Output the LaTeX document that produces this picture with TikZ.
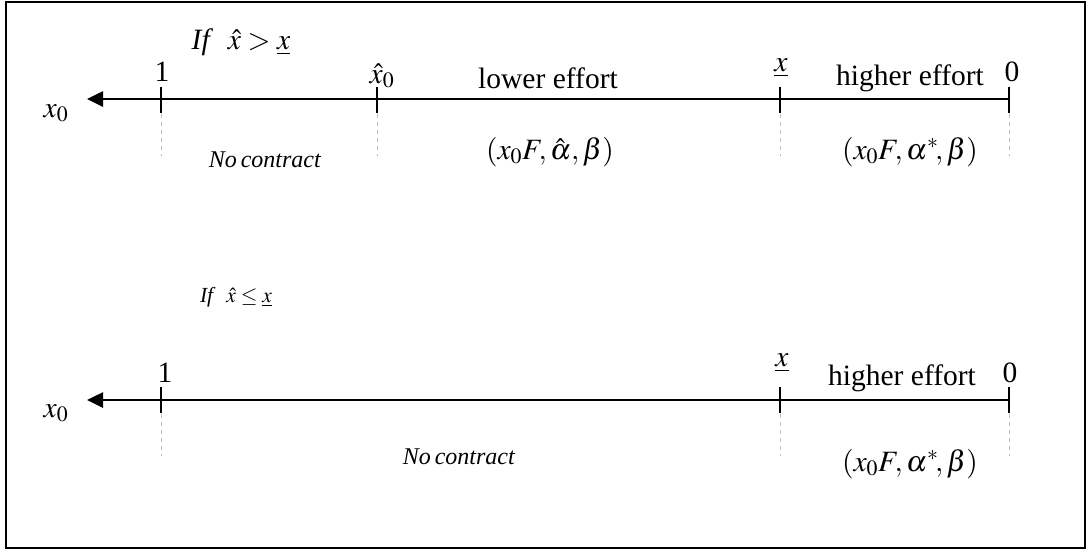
\documentclass[tikz,border=0pt]{standalone}
\usepackage{mathptmx}
\usepackage{fontspec}
\setmainfont{Liberation Serif}
\usetikzlibrary{arrows.meta}
\tikzset{
  axis/.style={line width=2.6pt,-{Triangle[length=16pt,width=15pt]}},
  tickmark/.style={line width=1.8pt},
  guide/.style={draw=black!25,line width=1pt,dash pattern=on 4pt off 4pt},
  big/.style={font=\fontsize{29.5}{34}\selectfont,inner sep=0pt},
  mid/.style={font=\fontsize{24}{28}\selectfont,inner sep=0pt},
  small/.style={font=\fontsize{21.5}{25}\selectfont,inner sep=0pt},
}
\begin{document}
\begin{tikzpicture}[x=1pt,y=-1pt]
\useasboundingbox (0,0) rectangle (1091,550);
\draw[line width=1.6pt] (6,2) rectangle (1085,548);
% ---------- top axis ----------
\coordinate (t1) at (161,99);
\coordinate (th) at (377,99);
\coordinate (tx) at (780,99);
\coordinate (t0) at (1009,99);
\coordinate (tend) at (87,99);
\draw[axis] (t0) -- (tend);
\foreach \p in {t1,th,tx,t0}{
  \draw[tickmark] ([yshift=12pt]\p) -- ([yshift=-14pt]\p);
  \draw[guide] ([yshift=-15pt]\p) -- ([yshift=-57pt]\p);
}
\node[big] (tif) at (241,42) {\textit{If}\ \ $\hat{x} > \underline{x}$};
\node[big] (tx0) at (56,113) {$x_{0}$};
\node[big] (tone) at (162,72) {1};
\node[big] (thl) at (382,76) {$\hat{x}_{0}$};
\node[big] (tlow) at (548,78) {lower effort};
\node[big] (txl) at (781,68) {$\underline{x}$};
\node[big] (thigh) at (910,78) {higher effort};
\node[big] (tzero) at (1012,72) {0};
\node[mid] (tnc) at (265,160) {\textit{No\,contract}};
\node[big] (tc1) at (550,152) {$(x_{0}F, \hat{\alpha}, \beta)$};
\node[big] (tc2) at (910,152) {$(x_{0}F, \alpha^{*}\!, \beta)$};
% ---------- bottom axis ----------
\coordinate (b1) at (161,400);
\coordinate (bx) at (780,400);
\coordinate (b0) at (1009,400);
\coordinate (bend) at (87,400);
\draw[axis] (b0) -- (bend);
\foreach \p in {b1,bx,b0}{
  \draw[tickmark] ([yshift=13pt]\p) -- ([yshift=-13pt]\p);
  \draw[guide] ([yshift=-14pt]\p) -- ([yshift=-56pt]\p);
}
\node[small] (bif) at (236,297) {\textit{If}\ \ $\hat{x} \leq \underline{x}$};
\node[big] (bx0) at (56,413) {$x_{0}$};
\node[big] (bone) at (165,373) {1};
\node[big] (bxl) at (782,363) {$\underline{x}$};
\node[big] (bhigh) at (902,378) {higher effort};
\node[big] (bzero) at (1010,373) {0};
\node[mid] (bnc) at (459,457) {\textit{No\,contract}};
\node[big] (bc2) at (910,464) {$(x_{0}F, \alpha^{*}\!, \beta)$};
\end{tikzpicture}
\end{document}
